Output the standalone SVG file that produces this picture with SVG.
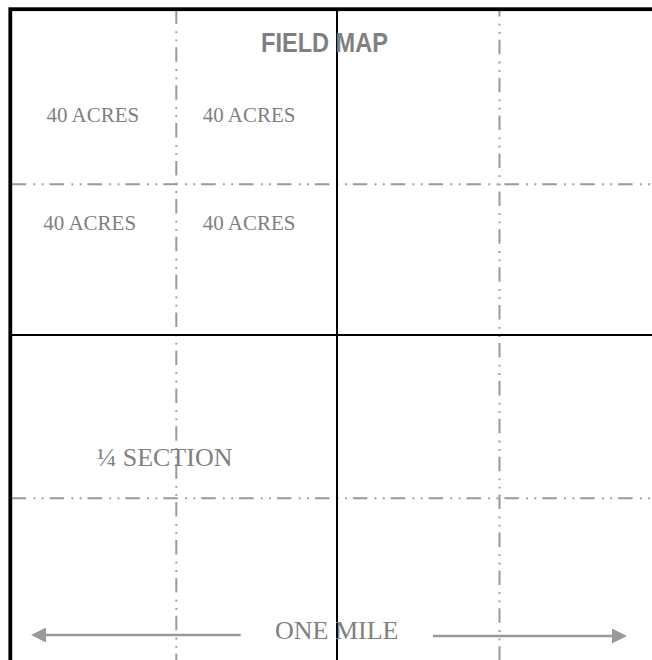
<svg xmlns="http://www.w3.org/2000/svg" width="652" height="660" viewBox="0 0 652 660">
  <defs>
    <style>
      .bg { fill: #ffffff; }
      .border { fill: none; stroke: #000000; stroke-width: 3.8; }
      .main { stroke: #000000; stroke-width: 2; fill: none; }
      .quarter { stroke: #999999; stroke-width: 2; fill: none; stroke-dasharray: 14.5 7.3 1.8 6.5 1.8 6; }
      .lbl { font-family: "Liberation Serif", "Times New Roman", serif; fill: #808080; }
      .title { font-family: "Liberation Sans", Arial, sans-serif; font-weight: bold; fill: #808080; }
      .arrow { stroke: #999999; stroke-width: 2.5; fill: none; }
      .head { fill: #999999; }
    </style>
    <marker id="ah" viewBox="0 0 15 15" refX="0" refY="7.5" markerUnits="userSpaceOnUse" markerWidth="15" markerHeight="15" orient="auto">
      <path class="head" d="M0,0 L15,7.5 L0,15 Z"/>
    </marker>
  </defs>
  <rect class="bg" x="0" y="0" width="652" height="660"/>
  <g id="grid">
    <line class="quarter" x1="176.3" y1="9.4" x2="176.3" y2="660"/>
    <line class="quarter" x1="499.5" y1="9.2" x2="499.5" y2="660" stroke-dashoffset="7.3"/>
    <line class="quarter" x1="11.7" y1="184.3" x2="652" y2="184.3"/>
    <line class="quarter" x1="11.7" y1="498.3" x2="652" y2="498.3"/>
    <line class="main" x1="337" y1="9" x2="337" y2="660"/>
    <line class="main" x1="10" y1="335" x2="652" y2="335"/>
    <rect class="border" x="10.3" y="9.2" width="670" height="670"/>
  </g>
  <g id="title"><text class="title" x="261" y="52" font-size="28" textLength="127" lengthAdjust="spacingAndGlyphs">FIELD MAP</text></g>
  <g id="labels">
    <text class="lbl" x="46.5" y="121.5" font-size="21">40 ACRES</text>
    <text class="lbl" x="202.7" y="121.5" font-size="21">40 ACRES</text>
    <text class="lbl" x="43.3" y="230" font-size="21">40 ACRES</text>
    <text class="lbl" x="202.7" y="230" font-size="21">40 ACRES</text>
    <text class="lbl" x="96.7" y="466" font-size="26">¼ SECTION</text>
    <text class="lbl" x="275" y="639" font-size="26">ONE MILE</text>
  </g>
  <g id="connectors">
    <line class="arrow" x1="240.7" y1="635" x2="46" y2="635" marker-end="url(#ah)"/>
    <line class="arrow" x1="433" y1="636" x2="612" y2="636" marker-end="url(#ah)"/>
  </g>
</svg>
